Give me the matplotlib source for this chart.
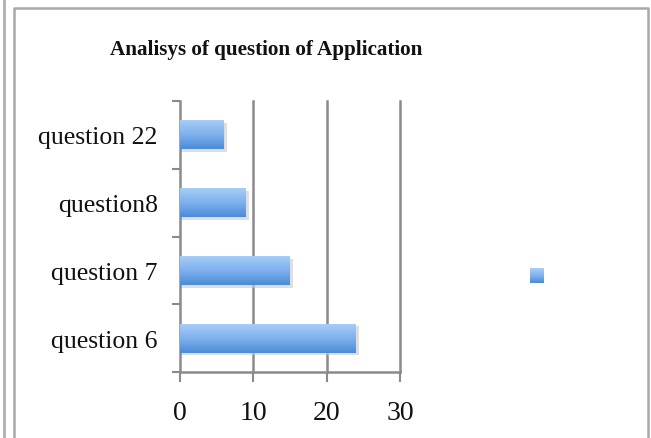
import numpy as np
import matplotlib
matplotlib.use("Agg")
import matplotlib.pyplot as plt
from matplotlib.lines import Line2D
from matplotlib.colors import LinearSegmentedColormap

categories = ["question 6", "question 7", "question8", "question 22"]
values = [24, 15, 9, 6]
x_ticks = [0, 10, 20, 30]
title = "Analisys of question of Application"

W, H = 651, 439
fig = plt.figure(figsize=(W / 100, H / 100), dpi=100)
fig.patch.set_facecolor("white")

# outer borders
fig.add_artist(Line2D([4 / W, 4 / W], [0, 1], color="#b0b0b0", lw=2, transform=fig.transFigure))
fig.add_artist(Line2D([14 / W, 14 / W, 648 / W, 648 / W], [0, 1 - 9 / H, 1 - 9 / H, 0],
                      color="#a8a8a8", lw=1.8, transform=fig.transFigure))

ax = fig.add_axes([180 / W, 66 / H, 220 / W, (373 - 102) / H])
cmap = LinearSegmentedColormap.from_list("g", ["#4a8bd6", "#7fb2ee", "#a9cff8"])
grad = np.linspace(0, 1, 64).reshape(-1, 1)

ypos = np.arange(len(categories))
bars = ax.barh(ypos, values, height=0.43, color="#7fb2ee", zorder=3)
for b in bars:
    x0, y0, w, h = b.get_x(), b.get_y(), b.get_width(), b.get_height()
    ax.add_patch(plt.Rectangle((x0, y0 - 0.04), w + 0.35, h, color="#c8c8c8", alpha=0.6, zorder=2, lw=0))
    im = ax.imshow(grad, extent=[x0, x0 + w, y0, y0 + h], origin="lower", cmap=cmap,
                   aspect="auto", zorder=4, interpolation="bicubic")
    im.set_clip_path(b)

ax.set_xlim(0, 30)
ax.set_ylim(-0.5, 3.5)
ax.set_xticks(x_ticks)
ax.set_xticklabels([str(t) for t in x_ticks], family="Liberation Serif", fontsize=20, color="#111111")
ax.set_yticks(ypos)
ax.set_yticklabels(categories, family="Liberation Serif", fontsize=18.5, color="#111111")
ax.set_yticks(np.arange(-0.5, 4, 1), minor=True)
ax.tick_params(axis="y", which="major", length=0, pad=16)
ax.tick_params(axis="y", which="minor", length=6, width=1.5, color="#8a8a8a", direction="out")
ax.tick_params(axis="x", length=7, width=1.5, color="#8a8a8a", direction="out", pad=13)
for g in x_ticks[1:]:
    ax.axvline(g, color="#8a8a8a", lw=1.8, zorder=1, clip_on=False)
for s in ["top", "right"]:
    ax.spines[s].set_visible(False)
ax.spines["left"].set_color("#8a8a8a")
ax.spines["left"].set_linewidth(1.8)
ax.spines["bottom"].set_color("#8a8a8a")
ax.spines["bottom"].set_linewidth(1.8)
ax.set_facecolor("white")

fig.text(266 / W, 1 - 50 / H, title, ha="center", va="center", fontsize=15.2, fontweight="bold",
         family="Liberation Serif", color="#111111")

# legend key
lax = fig.add_axes([530 / W, 1 - 284 / H, 14 / W, 15 / H])
lax.imshow(grad, cmap=cmap, origin="lower", aspect="auto", interpolation="bicubic")
lax.set_axis_off()

fig.savefig("out.png", dpi=100)
